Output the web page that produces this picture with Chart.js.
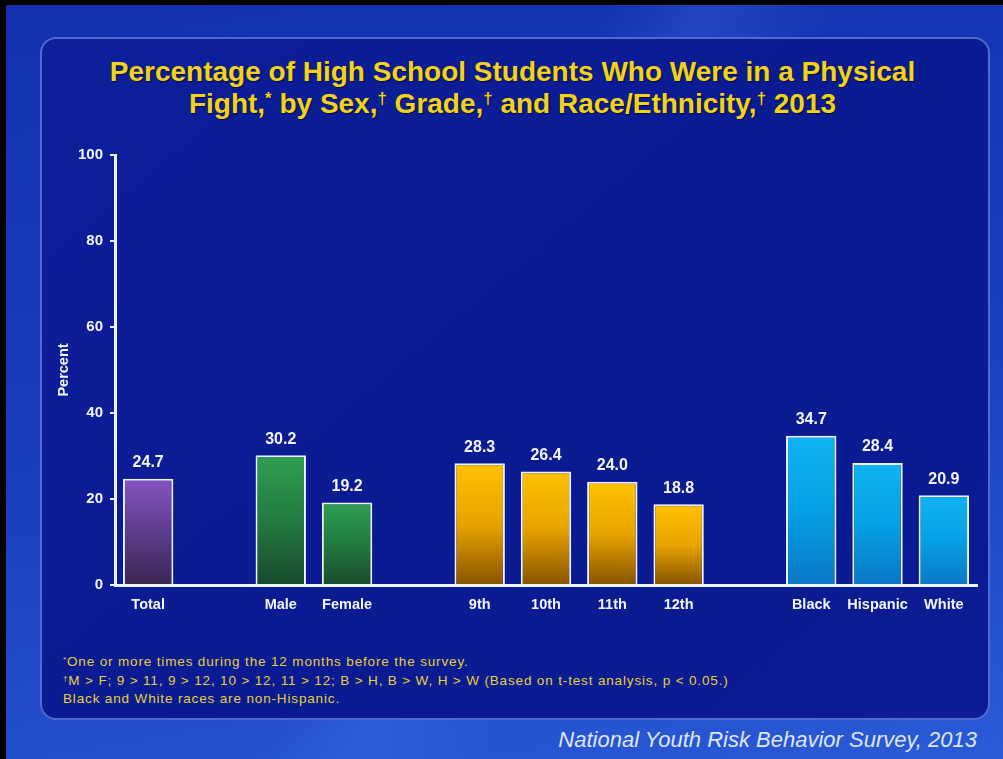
<!DOCTYPE html>
<html>
<head>
<meta charset="utf-8">
<script src="https://cdn.jsdelivr.net/npm/chart.js@4"></script>
<style>
  html, body { margin: 0; padding: 0; }
  body { width: 1003px; height: 759px; overflow: hidden; background: #000; font-family: "Liberation Sans", Arial, sans-serif; }
  .slide {
    position: absolute; left: 6px; top: 5px; right: 0; bottom: 0;
    background:
      linear-gradient(115deg, rgba(255,255,255,0) 45%, rgba(90,140,255,0.18) 52%, rgba(255,255,255,0) 62%),
      linear-gradient(170deg, #1230ae 0%, #1a3fbe 55%, #2a5ad6 100%);
  }
  .panel {
    position: absolute; left: 40px; top: 37px; width: 946px; height: 679px;
    border: 2px solid #4f6bd2; border-radius: 16px;
    background: linear-gradient(140deg, #0c1e99 0%, #0a1a90 60%, #0b1c94 100%);
  }
  .title {
    position: absolute; left: 11px; width: 1003px; top: 56px; text-align: center;
    color: #f2d31c; font-weight: bold; font-size: 28px; line-height: 32px;
    text-shadow: 1px 1px 1px rgba(0,0,0,0.6);
  }
  .title sup, .notes sup { font-size: 0.6em; vertical-align: 0.55em; line-height: 0; }
  .notes {
    position: absolute; left: 63px; top: 653px; color: #e6d03c;
    font-size: 13.5px; line-height: 18.5px; letter-spacing: 0.85px;
  }
  .source {
    position: absolute; right: 26px; top: 727px; color: #dfe7ff;
    font-style: italic; font-size: 22px;
  }
  #wrap { position: absolute; left: 0; top: 0; width: 1003px; height: 759px; }
</style>
</head>
<body>
<div class="slide"></div>
<div class="panel"></div>
<div class="title">Percentage of High School Students Who Were in a Physical<br>Fight,<sup>*</sup> by Sex,<sup>†</sup> Grade,<sup>†</sup> and Race/Ethnicity,<sup>†</sup> 2013</div>
<div class="notes">
  <div><sup>*</sup>One or more times during the 12 months before the survey.</div>
  <div><sup>†</sup>M &gt; F; 9 &gt; 11, 9 &gt; 12, 10 &gt; 12, 11 &gt; 12; B &gt; H, B &gt; W, H &gt; W (Based on t-test analysis, p &lt; 0.05.)</div>
  <div>Black and White races are non-Hispanic.</div>
</div>
<div class="source">National Youth Risk Behavior Survey, 2013</div>
<div id="wrap"><canvas id="chart" width="1003" height="759"></canvas></div>
<script>
// categories, with empty slots as gaps between the groups
const categories = ['Total', '', 'Male', 'Female', '', '9th', '10th', '11th', '12th', '', 'Black', 'Hispanic', 'White'];
const percents = [24.7, null, 30.2, 19.2, null, 28.3, 26.4, 24.0, 18.8, null, 34.7, 28.4, 20.9];
const groups = ['total', null, 'sex', 'sex', null, 'grade', 'grade', 'grade', 'grade', null, 'race', 'race', 'race'];
const yTicks = [0, 20, 40, 60, 80, 100];

// gradient stops per group, top -> bottom
const groupColors = {
  total: ['#8454bf', '#5c3c8c', '#3a2654'],
  sex: ['#2f9f52', '#237a40', '#174a2c'],
  grade: ['#ffc200', '#e8a400', '#865400'],
  race: ['#10b4f2', '#06a0e4', '#0a78c6']
};

const FONT = '"Liberation Sans", Arial, sans-serif';

function barFill(ctx) {
  const chart = ctx.chart;
  if (!chart.chartArea || ctx.type !== 'data') return '#888';
  const g = groupColors[groups[ctx.dataIndex]];
  if (!g || ctx.raw == null) return 'rgba(0,0,0,0)';
  const y = chart.scales.y;
  const top = y.getPixelForValue(ctx.raw);
  const bottom = y.getPixelForValue(0);
  const grad = chart.ctx.createLinearGradient(0, top, 0, bottom);
  grad.addColorStop(0, g[0]);
  grad.addColorStop(0.5, g[1]);
  grad.addColorStop(1, g[2]);
  return grad;
}

// value labels above the bars
const valueLabels = {
  id: 'valueLabels',
  afterDatasetsDraw(chart) {
    const c = chart.ctx;
    const meta = chart.getDatasetMeta(0);
    c.save();
    c.fillStyle = '#f4f6ff';
    c.font = 'bold 16px ' + FONT;
    c.textAlign = 'center';
    c.textBaseline = 'middle';
    meta.data.forEach((bar, i) => {
      const v = percents[i];
      if (v == null) return;
      c.fillText(v.toFixed(1), bar.x, bar.y - 16);
    });
    c.restore();
  }
};

const chart = new Chart(document.getElementById('chart'), {
  type: 'bar',
  data: {
    labels: categories,
    datasets: [{
      data: percents,
      backgroundColor: barFill,
      borderColor: '#eef3ff',
      borderWidth: 2,
      barPercentage: 0.76,
      categoryPercentage: 1.0
    }]
  },
  options: {
    responsive: false,
    animation: false,
    layout: { padding: { left: 55, right: 26, top: 155, bottom: 134 } },
    plugins: { legend: { display: false }, tooltip: { enabled: false } },
    scales: {
      x: {
        afterFit(s) { s.height = 40; },
        grid: { display: false, drawTicks: false },
        border: { color: '#eef3ff', width: 3 },
        ticks: { color: '#f4f6ff', font: { family: FONT, size: 14.5, weight: 'bold' }, padding: 11, autoSkip: false, maxRotation: 0 }
      },
      y: {
        min: 0, max: 100,
        afterFit(s) { s.width = 60; },
        afterBuildTicks(s) { s.ticks = yTicks.map(v => ({ value: v })); },
        grid: { drawOnChartArea: false, drawTicks: true, tickLength: 5, color: '#eef3ff', lineWidth: 2 },
        border: { color: '#eef3ff', width: 3 },
        ticks: { color: '#f4f6ff', font: { family: FONT, size: 15, weight: 'bold' }, padding: 7 },
        title: { display: true, text: 'Percent', color: '#f4f6ff', font: { family: FONT, size: 14.5, weight: 'bold' }, padding: 0 }
      }
    }
  },
  plugins: [valueLabels]
});
</script>
</body>
</html>
